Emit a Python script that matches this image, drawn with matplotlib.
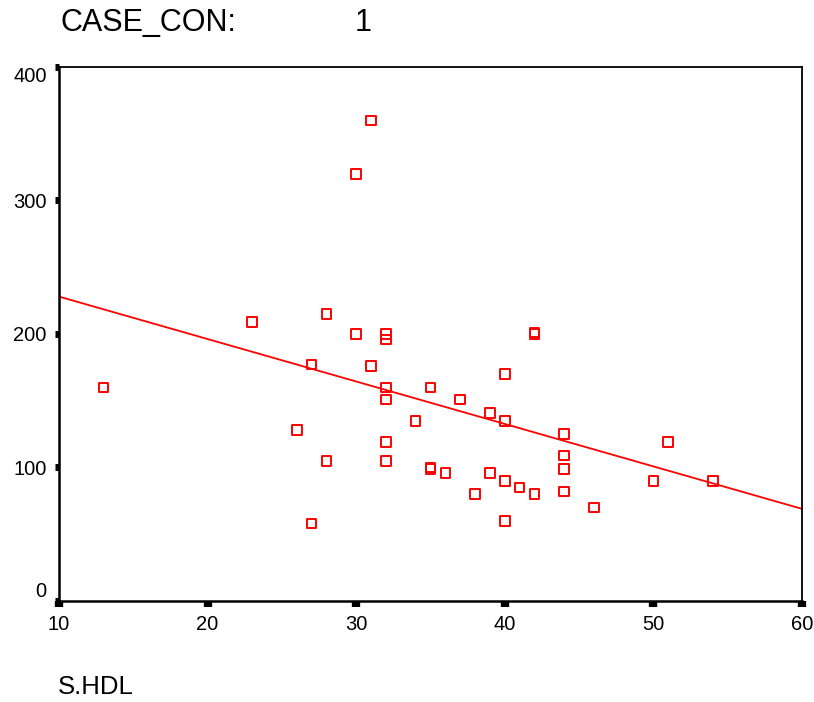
import numpy as np
import matplotlib
matplotlib.use("Agg")
import matplotlib.pyplot as plt

plt.rcParams['font.family'] = ['Liberation Sans', 'DejaVu Sans']

# S.HDL vs value, CASE_CON = 1
hdl = [13, 23, 26, 27, 27, 28, 28, 30, 31, 30, 31, 32, 32, 32, 32, 32, 32,
       34, 35, 35, 35, 36, 37, 38, 39, 39, 40, 40, 40, 40, 41, 42, 42, 42,
       44, 44, 44, 44, 46, 50, 51, 54]
vals = [160, 209, 128, 177, 58, 215, 105, 320, 360, 200, 176, 200, 196, 160,
        151, 119, 105, 135, 160, 100, 99, 96, 151, 80, 141, 96, 170, 135, 90,
        60, 85, 201, 200, 80, 125, 109, 99, 82, 70, 90, 119, 90]

# fit line
fit_intercept = 259.8
fit_slope = -3.18

xticks = [10, 20, 30, 40, 50, 60]
yticks = [0, 100, 200, 300, 400]

fig = plt.figure(figsize=(8.14, 7.02), dpi=100)
ax = fig.add_axes([0.0725, 0.1439, 0.9128, 0.7607])

ax.scatter(hdl, vals, marker='s', s=48, facecolors='none', edgecolors='#ff0000',
           linewidths=1.4, zorder=3)
xl = np.array([10, 60])
ax.plot(xl, fit_intercept + fit_slope * xl, color='#ff0000', lw=1.3, zorder=2)

ax.set_xlim(10, 60)
ax.set_ylim(0, 400)
ax.set_xticks(xticks)
ax.set_yticks(yticks)
ax.tick_params(axis='x', direction='out', length=4, width=6, labelsize=14.5, pad=6)
ax.tick_params(axis='y', direction='out', length=3, width=5, labelsize=14.5, pad=6)

for s in ['left', 'bottom']:
    ax.spines[s].set_linewidth(1.8)
for s in ['top', 'right']:
    ax.spines[s].set_linewidth(1.3)

ylabels = ax.get_yticklabels()
ylabels[0].set_verticalalignment('bottom')
ylabels[-1].set_verticalalignment('top')

fig.text(60 / 814, 1 - 23 / 702, 'CASE_CON:', fontsize=22, va='center', ha='left')
fig.text(355 / 814, 1 - 23 / 702, '1', fontsize=22, va='center', ha='left')
fig.text(58 / 814, 1 - 687 / 702, 'S.HDL', fontsize=18.5, va='center', ha='left')

fig.savefig('out.png', dpi=100)
